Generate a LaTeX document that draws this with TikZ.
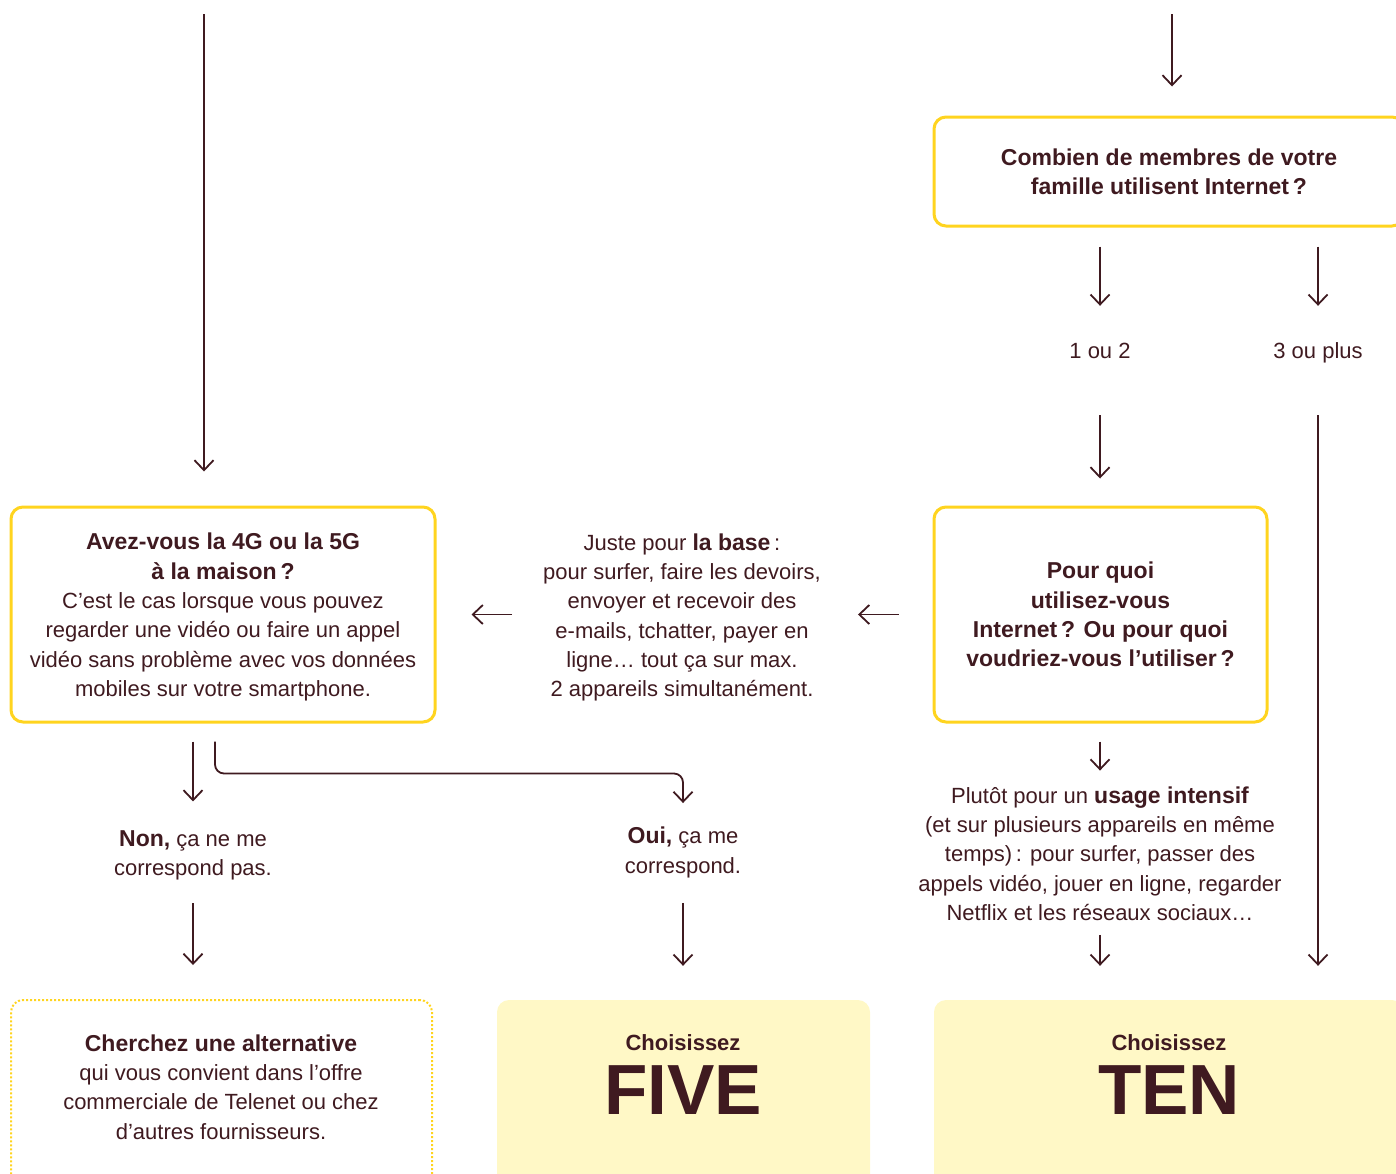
\documentclass[tikz,border=0pt]{standalone}
\usepackage{fontspec}
\setmainfont{Liberation Sans}
\usetikzlibrary{arrows.meta}
\definecolor{mar}{HTML}{3F1A20}
\definecolor{tyel}{HTML}{FFD41F}
\definecolor{lyel}{HTML}{FFF8C6}
\newcommand\bb[1]{{\fontsize{23}{29.3}\selectfont\bfseries #1}}
\begin{document}
\begin{tikzpicture}[x=1pt,y=-1pt,
  txt/.style={inner sep=0pt, align=center, text=mar, font=\fontsize{22}{29.3}\selectfont},
  qbox/.style={draw=tyel, line width=3pt, rounded corners=12pt, inner sep=0pt, align=center, text=mar, font=\fontsize{22}{29.3}\selectfont},
  dbox/.style={draw=tyel, line width=2pt, dash pattern=on 2pt off 2pt, rounded corners=12pt},
  fbox/.style={fill=lyel, rounded corners=12pt},
  lbl/.style={txt, text height=16pt, text depth=5pt},
  arr/.style={draw=mar, line width=1.8pt, -{Straight Barb[length=10pt,width=19pt,line width=1.8pt]}},
  big/.style={inner sep=0pt, text=mar, font=\fontsize{71}{71}\selectfont\bfseries}
]
\useasboundingbox (0,0) rectangle (1396,1173);
\clip (0,0) rectangle (1396,1173);

% boxes
\node[qbox, minimum width=470pt, minimum height=109pt] (qT) at (1169,171.5)
  {\bb{Combien de membres de votre}\\\bb{famille utilisent Internet\,?}};
\node[qbox, minimum width=424pt, minimum height=215pt] (qL) at (223,614.5)
  {\rule{0pt}{22pt}\bb{Avez-vous la 4G ou la 5G}\\\bb{à la maison\,?}\\C’est le cas lorsque vous pouvez\\regarder une vidéo ou faire un appel\\vidéo sans problème avec vos données\\mobiles sur votre smartphone.};
\node[qbox, minimum width=333pt, minimum height=215pt] (qP) at (1100.5,614.5)
  {\bb{Pour quoi}\\\bb{utilisez-vous}\\\bb{Internet\,? Ou pour quoi}\\\bb{voudriez-vous l’utiliser\,?}};
\node[dbox, minimum width=421pt, minimum height=200pt] (bC) at (221.5,1100) {};
\node[fbox, minimum width=373pt, minimum height=200pt] (bF) at (683.5,1100) {};
\node[fbox, minimum width=470pt, minimum height=200pt] (bT) at (1169,1100) {};

% texts
\node[txt] (mid) at (682,617.5)
  {Juste pour \bb{la base}\,:\\pour surfer, faire les devoirs,\\envoyer et recevoir des\\e-mails, tchatter, payer en\\ligne… tout ça sur max.\\2 appareils simultanément.};
\node[lbl] (l1) at (1100,353) {1 ou 2};
\node[lbl] (l3) at (1318,353) {3 ou plus};
\node[txt] (pl) at (1100,853.5)
  {Plutôt pour un \bb{usage intensif}\\(et sur plusieurs appareils en même\\temps)\,: pour surfer, passer des\\appels vidéo, jouer en ligne, regarder\\Netflix et les réseaux sociaux…};
\node[txt] (non) at (193,855.5) {\bb{Non,} ça ne me\\correspond pas.};
\node[txt] (oui) at (683,852.5) {\bb{Oui,} ça me\\correspond.};
\node[txt] (cT) at (221,1087)
  {\bb{Cherchez une alternative}\\qui vous convient dans l’offre\\commerciale de Telenet ou chez\\d’autres fournisseurs.};
\node[txt, font=\fontsize{22}{29.3}\selectfont\bfseries] (fch) at (683,1043) {Choisissez};
\node[big] (five) at (683,1090) {FIVE};
\node[txt, font=\fontsize{22}{29.3}\selectfont\bfseries] (tch) at (1169,1043) {Choisissez};
\node[big] (ten) at (1169,1090) {TEN};

% incoming
\coordinate (inL) at (204,14);
\coordinate (inR) at (1172,14);

% connectors
\draw[arr, shorten >=34pt] (inL) -- (qL.north -| inL);
\draw[arr, shorten >=29pt] (inR) -- (qT.north -| inR);
\draw[arr, shorten <=19pt, shorten >=36.5pt] (qT.south -| l1) -- (l1.north);
\draw[arr, shorten <=19pt, shorten >=36.5pt] (qT.south -| l3) -- (l3.north);
\draw[arr, shorten <=51.5pt, shorten >=27pt] (l1.south) -- (qP.north -| l1);
\draw[arr, shorten <=51.5pt, shorten >=34pt] (l3.south) -- (bT.north -| l3);
\draw[arr, shorten <=34pt, shorten >=37pt] (qP.west) -- (mid.east |- qP.west);
\draw[arr, shorten <=31pt, shorten >=35pt] (mid.west |- qL.east) -- (qL.east);
\draw[arr, shorten <=18pt, shorten >=15.7pt] (qP.south -| pl) -- (pl.north);
\draw[arr, shorten <=14pt, shorten >=34pt] (pl.south) -- (bT.north -| pl);
\draw[arr, shorten <=18pt, shorten >=29pt] (qL.south -| non) -- (non.north);
\draw[arr, shorten <=22.5pt, shorten >=34pt] (non.south) -- (bC.north -| non);
\draw[arr, rounded corners=9pt] ([xshift=-8pt,yshift=-18pt]qL.south) -- ++(0,-32pt) -| ([yshift=24pt]oui.north);
\draw[arr, shorten <=25pt, shorten >=34pt] (oui.south) -- (bF.north -| oui);
\end{tikzpicture}
\end{document}
